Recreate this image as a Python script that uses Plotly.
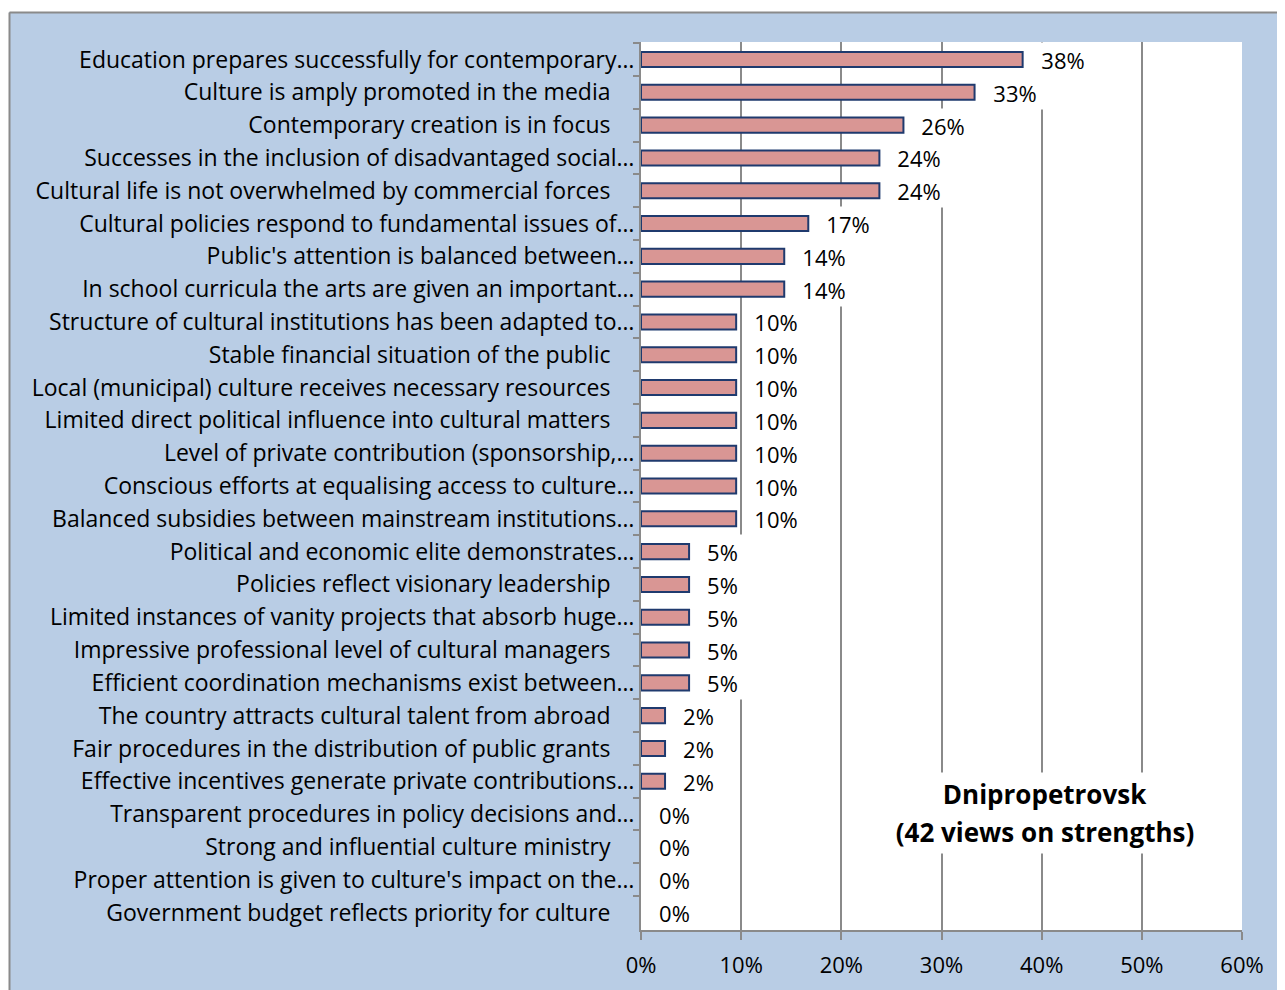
import plotly.graph_objects as go

categories = [
    "Education prepares successfully for contemporary…",
    "Culture is amply promoted in the media",
    "Contemporary creation is in focus",
    "Successes in the inclusion of disadvantaged social…",
    "Cultural life is not overwhelmed by commercial forces",
    "Cultural policies respond to fundamental issues of…",
    "Public's attention is balanced between…",
    "In school curricula the arts are given an important…",
    "Structure of cultural institutions has been adapted to…",
    "Stable financial situation of the public",
    "Local (municipal) culture receives necessary resources",
    "Limited direct political influence into cultural matters",
    "Level of private contribution (sponsorship,…",
    "Conscious efforts at equalising access to culture…",
    "Balanced subsidies between mainstream institutions…",
    "Political and economic elite demonstrates…",
    "Policies reflect visionary leadership",
    "Limited instances of vanity projects that absorb huge…",
    "Impressive professional level of cultural managers",
    "Efficient coordination mechanisms exist between…",
    "The country attracts cultural talent from abroad",
    "Fair procedures in the distribution of public grants",
    "Effective incentives generate private contributions…",
    "Transparent procedures in policy decisions and…",
    "Strong and influential culture ministry",
    "Proper attention is given to culture's impact on the…",
    "Government budget reflects priority for culture",
]

values = [38.1, 33.3, 26.2, 23.8, 23.8, 16.7, 14.3, 14.3,
          9.5, 9.5, 9.5, 9.5, 9.5, 9.5, 9.5,
          4.8, 4.8, 4.8, 4.8, 4.8,
          2.4, 2.4, 2.4,
          0, 0, 0, 0]

value_labels = ["38%", "33%", "26%", "24%", "24%", "17%", "14%", "14%",
                "10%", "10%", "10%", "10%", "10%", "10%", "10%",
                "5%", "5%", "5%", "5%", "5%",
                "2%", "2%", "2%",
                "0%", "0%", "0%", "0%"]

x_ticks = [0, 10, 20, 30, 40, 50, 60]
x_tick_labels = ["0%", "10%", "20%", "30%", "40%", "50%", "60%"]

title_lines = ["Dnipropetrovsk", "(42 views on strengths)"]

FONT = "Open Sans"
W, H = 1285, 990
OFF = 8  # page body margin
# plot area in page pixel coordinates
PL, PR, PT, PB = 641, 1242, 42, 930


def px_x(p):
    return (p - PL) / (PR - PL)


def px_y(p):
    return (PB - p) / (PB - PT)


def display_label(c):
    if c.endswith("…"):
        return c
    return c + "\u00a0" * 4


disp = [display_label(c) for c in categories]

fig = go.Figure()
fig.add_trace(go.Bar(
    x=values, y=disp, orientation="h",
    marker=dict(color="#D99694",
                line=dict(color="#1F3A6E", width=[2 if v > 0 else 0 for v in values])),
    width=0.46,
    hoverinfo="skip",
))

for v, c, t in zip(values, disp, value_labels):
    fig.add_annotation(
        x=v, y=c, xref="x", yref="y", text=t, showarrow=False,
        xanchor="left", yanchor="middle", xshift=8, bgcolor="white",
        width=62 if len(t) == 3 else 49, height=33, borderpad=0, align="center",
        font=dict(family=FONT, size=22, color="black"),
    )

for line, yc in zip(title_lines, [794, 832]):
    fig.add_annotation(
        x=px_x(1045), y=px_y(yc), xref="paper", yref="paper",
        xanchor="center", yanchor="middle",
        text="<b>" + line + "</b>", showarrow=False, bgcolor="white",
        width=326, height=38, borderpad=2,
        font=dict(family=FONT, size=26, color="black"), align="center",
    )

# outer frame: white strips and gray border
fig.add_shape(type="rect", xref="paper", yref="paper", layer="above",
              x0=px_x(-5), x1=px_x(1300), y0=px_y(12), y1=px_y(-5),
              fillcolor="white", line=dict(width=0))
fig.add_shape(type="rect", xref="paper", yref="paper", layer="above",
              x0=px_x(-5), x1=px_x(9), y0=px_y(1000), y1=px_y(-5),
              fillcolor="white", line=dict(width=0))
fig.add_shape(type="line", xref="paper", yref="paper", layer="above",
              x0=px_x(9.5), x1=px_x(1300), y0=px_y(12.5), y1=px_y(12.5),
              line=dict(color="#8A8A8A", width=2))
fig.add_shape(type="line", xref="paper", yref="paper", layer="above",
              x0=px_x(9.5), x1=px_x(9.5), y0=px_y(12.5), y1=px_y(1000),
              line=dict(color="#8A8A8A", width=2))

fig.update_layout(
    width=W, height=H,
    margin=dict(l=PL - OFF, r=W - (PR - OFF), t=PT - OFF, b=H - (PB - OFF), pad=0),
    paper_bgcolor="#B9CDE5", plot_bgcolor="white",
    showlegend=False,
    font=dict(family=FONT, size=22, color="black"),
)
fig.update_xaxes(
    range=[0, 60], tickvals=x_ticks, ticktext=x_tick_labels,
    showgrid=True, gridcolor="#8A8A8A", gridwidth=2,
    showline=True, linecolor="#8A8A8A", linewidth=2,
    ticks="outside", ticklen=8, tickcolor="#8A8A8A", tickwidth=2,
    ticklabelstandoff=7,
    zeroline=False, tickfont=dict(family=FONT, size=22),
)
fig.update_yaxes(
    categoryorder="array", categoryarray=disp, autorange="reversed",
    showline=True, linecolor="#8A8A8A", linewidth=2,
    ticks="outside", ticklen=6, tickcolor="#8A8A8A", tickwidth=2,
    tickson="boundaries", showgrid=False,
    tickfont=dict(family=FONT, size=23),
)

fig.write_html("out.html")
